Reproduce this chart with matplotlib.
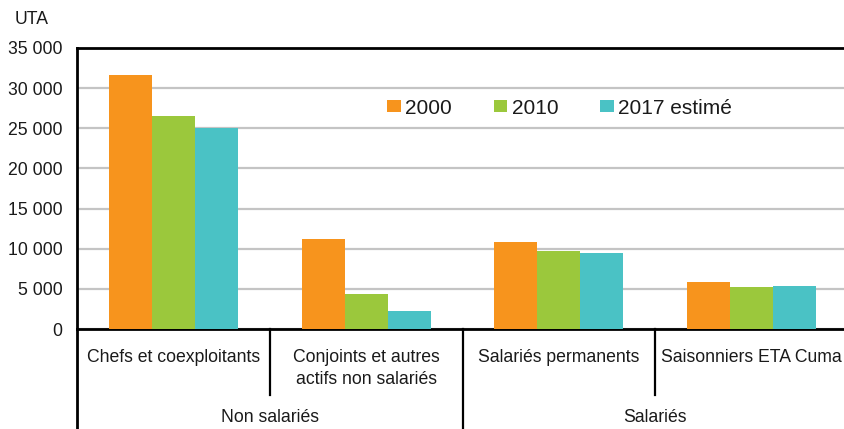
import matplotlib
matplotlib.use("Agg")
import matplotlib.pyplot as plt
import numpy as np
from matplotlib.transforms import blended_transform_factory
from matplotlib.lines import Line2D

plt.rcParams['font.family'] = ['Liberation Sans', 'DejaVu Sans']

categories = ["Chefs et coexploitants", "Conjoints et autres\nactifs non salariés",
              "Salariés permanents", "Saisonniers ETA Cuma"]
groups = ["Non salariés", "Salariés"]
series_names = ["2000", "2010", "2017 estimé"]
v2000 = [31600, 11200, 10850, 5850]
v2010 = [26550, 4350, 9700, 5250]
v2017 = [25050, 2250, 9450, 5350]
colors = ["#F7941D", "#9BC83C", "#4AC2C5"]
yticks = [0, 5000, 10000, 15000, 20000, 25000, 30000, 35000]
ytick_labels = ["0", "5 000", "10 000", "15 000", "20 000", "25 000", "30 000", "35 000"]

W, H = 844, 429
FS = 12.7
fig = plt.figure(figsize=(W/100, H/100), dpi=100)
ax = fig.add_axes([77/W, (H-329)/H, (848-77)/W, 281/H])

x = np.arange(len(categories))
bw = 0.223
for i, (vals, name) in enumerate(zip([v2000, v2010, v2017], series_names)):
    ax.bar(x + (i-1)*bw, vals, width=bw, color=colors[i], label=name, zorder=3)

ax.set_xlim(-0.5, 3.5)
ax.set_ylim(0, 35000)
ax.set_yticks(yticks)
ax.set_yticklabels(ytick_labels, fontsize=FS, color="#1a1a1a")
ax.set_xticks([])
ax.tick_params(axis='y', length=0, pad=10.5)
ax.yaxis.grid(True, color="#c4c4c4", linewidth=1.6, zorder=0)
ax.set_axisbelow(True)
for s in ['left', 'bottom', 'top']:
    ax.spines[s].set_linewidth(2)
    ax.spines[s].set_color('black')
ax.spines['right'].set_visible(False)

fig.text(15/W, 1-20/H, "UTA", fontsize=FS, va='center', ha='left', color="#1a1a1a")

leg = ax.legend(loc='center left', bbox_to_anchor=((387-77)/771, (329-108)/281), ncol=3,
                frameon=False, fontsize=15, handlelength=0.67, handleheight=0.45,
                handletextpad=0.2, columnspacing=2.0, borderaxespad=0, borderpad=0)
for t in leg.get_texts():
    t.set_color("#1a1a1a")

tr = blended_transform_factory(ax.transData, ax.transAxes)
def yf(py):
    return (329-py)/281

# category labels
for xi, lab in zip(x, categories):
    ax.text(xi, yf(357), lab.split("\n")[0], transform=tr, ha='center', va='center', fontsize=FS,
            color="#1a1a1a", clip_on=False)
    if "\n" in lab:
        ax.text(xi, yf(380), lab.split("\n")[1], transform=tr, ha='center', va='center', fontsize=FS,
                color="#1a1a1a", clip_on=False)
# group labels
for gi, lab in enumerate(groups):
    ax.text(0.5 + 2*gi, yf(417), lab, transform=tr, ha='center', va='center', fontsize=FS,
            color="#1a1a1a", clip_on=False)
# separators
for xs, ybot in [(0.5, 393), (1.5, 429), (2.5, 393)]:
    ax.add_line(Line2D([xs, xs], [yf(329), yf(ybot+2)], transform=tr, color='black',
                       linewidth=1.6, clip_on=False))
ax.add_line(Line2D([-0.5, -0.5], [yf(329), yf(431)], transform=tr, color='black',
                   linewidth=2, clip_on=False))

fig.savefig("out.png", dpi=100)
